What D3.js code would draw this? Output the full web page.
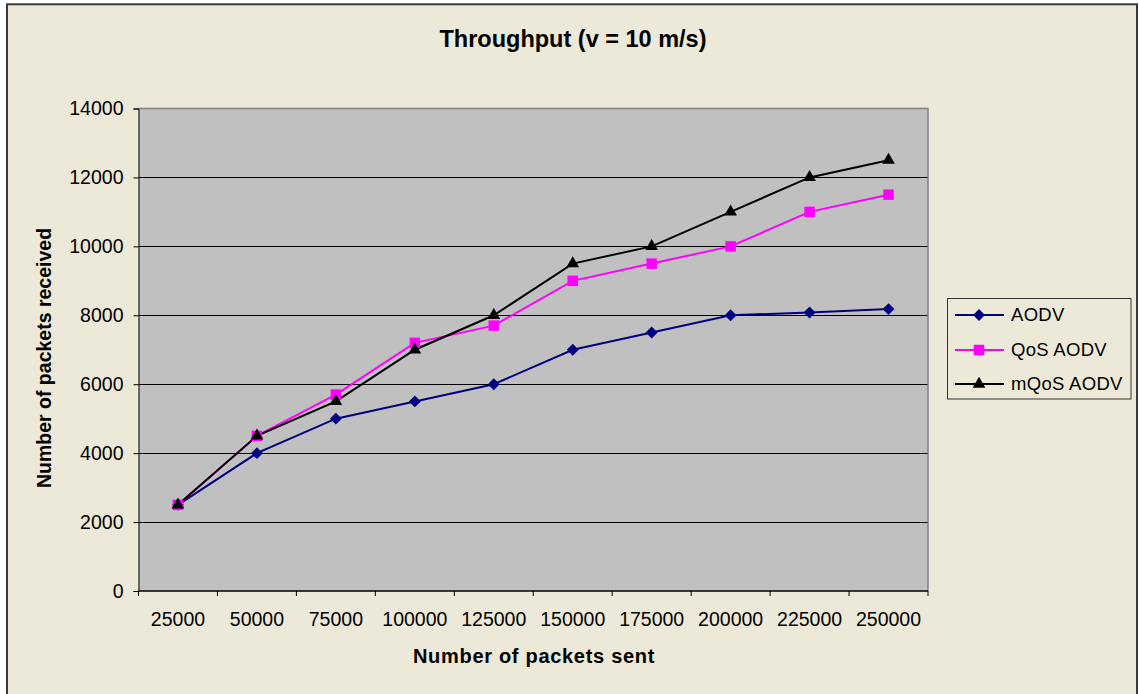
<!DOCTYPE html>
<html>
<head>
<meta charset="utf-8">
<script src="https://cdn.jsdelivr.net/npm/d3@7"></script>
<style>
  html, body { margin: 0; padding: 0; background: #ffffff; }
  svg { display: block; font-family: "Liberation Sans", Arial, sans-serif; }
</style>
</head>
<body>
<svg id="chart" width="1139" height="694"></svg>
<script>
// ---- data ----
const categories = [25000, 50000, 75000, 100000, 125000, 150000, 175000, 200000, 225000, 250000];
const aodv     = [2500, 4000, 5000, 5500, 6000, 7000, 7500, 8000, 8080, 8180];
const qosAodv  = [2500, 4500, 5700, 7200, 7700, 9000, 9500, 10000, 11000, 11500];
const mqosAodv = [2500, 4500, 5500, 7000, 8000, 9500, 10000, 11000, 12000, 12500];
const yTicks = [0, 2000, 4000, 6000, 8000, 10000, 12000, 14000];
const seriesNames = ["AODV", "QoS AODV", "mQoS AODV"];
const titleText = "Throughput (v = 10 m/s)";
const xTitle = "Number of packets sent";
const yTitle = "Number of packets received";

const series = [
  { name: seriesNames[0], values: aodv,     color: "#000080", symbol: d3.symbolSquare,   size: 70, rot: 45 },
  { name: seriesNames[1], values: qosAodv,  color: "#FF00FF", symbol: d3.symbolSquare,   size: 110, rot: 0 },
  { name: seriesNames[2], values: mqosAodv, color: "#000000", symbol: d3.symbolTriangle, size: 70, rot: 0 }
];

const svg = d3.select("#chart");
const W = 1139, H = 694;
const plot = { left: 138.5, right: 928, top: 108.5, bottom: 591 };

// chart background & frame
svg.append("rect").attr("x", 0).attr("y", 0).attr("width", W).attr("height", H).attr("fill", "#ffffff");
svg.append("rect").attr("x", 7).attr("y", 4.3).attr("width", 1130).attr("height", 700)
  .attr("fill", "#ECE9D8").attr("stroke", "#3a3a3a").attr("stroke-width", 2);

// scales
const x = d3.scaleBand().domain(categories).range([plot.left, plot.right]).paddingInner(0).paddingOuter(0);
const y = d3.scaleLinear().domain([0, 14000]).range([plot.bottom, plot.top]);

// plot area
svg.append("rect").attr("x", plot.left).attr("y", plot.top)
  .attr("width", plot.right - plot.left).attr("height", plot.bottom - plot.top)
  .attr("fill", "#C0C0C0");

// gridlines
svg.append("g").selectAll("line").data(yTicks.filter(d => d > 0 && d < 14000)).join("line")
  .attr("x1", plot.left).attr("x2", plot.right)
  .attr("y1", d => Math.round(y(d)) + 0.5).attr("y2", d => Math.round(y(d)) + 0.5)
  .attr("stroke", "#000").attr("stroke-width", 1);

// plot border top/right (gray)
svg.append("path")
  .attr("d", `M${plot.left},${plot.top} H${plot.right} V${plot.bottom}`)
  .attr("fill", "none").attr("stroke", "#808080").attr("stroke-width", 1.5);

// y axis
const yAxis = d3.axisLeft(y).tickValues(yTicks).tickSize(5).tickPadding(10).tickFormat(d3.format("d"));
const gy = svg.append("g").attr("transform", `translate(${plot.left},0)`).call(yAxis);
gy.select(".domain").attr("stroke", "#000");
gy.selectAll(".tick line").attr("stroke", "#000");
gy.selectAll("text").attr("font-size", 19.5).attr("fill", "#000")
  .attr("font-family", "Liberation Sans, Arial, sans-serif");

// x axis: labels centered in bands, ticks at band boundaries
const xAxis = d3.axisBottom(x).tickSize(0).tickPadding(21);
const gx = svg.append("g").attr("transform", `translate(0,${plot.bottom})`).call(xAxis);
gx.select(".domain").remove();
gx.selectAll("text").attr("font-size", 19.5).attr("fill", "#000")
  .attr("font-family", "Liberation Sans, Arial, sans-serif");
const boundaries = categories.map(c => x(c)).concat([x.range()[1]]);
svg.append("g").selectAll("line").data(boundaries).join("line")
  .attr("x1", d => d).attr("x2", d => d)
  .attr("y1", plot.bottom).attr("y2", plot.bottom + 5)
  .attr("stroke", "#000").attr("stroke-width", 1);
svg.append("line").attr("x1", plot.left).attr("x2", plot.right)
  .attr("y1", plot.bottom).attr("y2", plot.bottom)
  .attr("stroke", "#000").attr("stroke-width", 1.5);

// lines and markers
const line = d3.line().x((d, i) => x(categories[i]) + x.bandwidth() / 2).y(d => y(d));
series.forEach(s => {
  svg.append("path").datum(s.values).attr("d", line)
    .attr("fill", "none").attr("stroke", s.color).attr("stroke-width", 2);
});
series.forEach(s => {
  svg.append("g").selectAll("path").data(s.values).join("path")
    .attr("d", d3.symbol().type(s.symbol).size(s.size))
    .attr("transform", (d, i) => `translate(${x(categories[i]) + x.bandwidth() / 2},${y(d)}) rotate(${s.rot})`)
    .attr("fill", s.color);
});

// title
svg.append("text").attr("x", 573).attr("y", 46.5).attr("text-anchor", "middle")
  .attr("font-size", 23.5).attr("font-weight", "bold").attr("fill", "#000").text(titleText);

// axis titles
svg.append("text").attr("x", 534).attr("y", 663).attr("text-anchor", "middle")
  .attr("font-size", 20).attr("font-weight", "bold").attr("letter-spacing", 0.7)
  .attr("fill", "#000").text(xTitle);
svg.append("text").attr("transform", "translate(51,358) rotate(-90)").attr("text-anchor", "middle")
  .attr("font-size", 19.5).attr("font-weight", "bold").attr("fill", "#000").text(yTitle);

// legend
const lg = svg.append("g");
lg.append("rect").attr("x", 947.5).attr("y", 298.5).attr("width", 183.5).attr("height", 100.5)
  .attr("fill", "#ECE9D8").attr("stroke", "#333").attr("stroke-width", 1);
const legendY = [315, 350, 384];
series.forEach((s, i) => {
  const g = lg.append("g").attr("transform", `translate(0,${legendY[i]})`);
  g.append("line").attr("x1", 955).attr("x2", 1004).attr("y1", 0).attr("y2", 0)
    .attr("stroke", s.color).attr("stroke-width", 2);
  g.append("path").attr("d", d3.symbol().type(s.symbol).size(s.size))
    .attr("transform", `translate(979,0) rotate(${s.rot})`).attr("fill", s.color);
  g.append("text").attr("x", 1011).attr("y", 0).attr("dy", "0.35em")
    .attr("font-size", 18.5).attr("letter-spacing", 0.3).attr("fill", "#000").text(s.name);
});
</script>
</body>
</html>
